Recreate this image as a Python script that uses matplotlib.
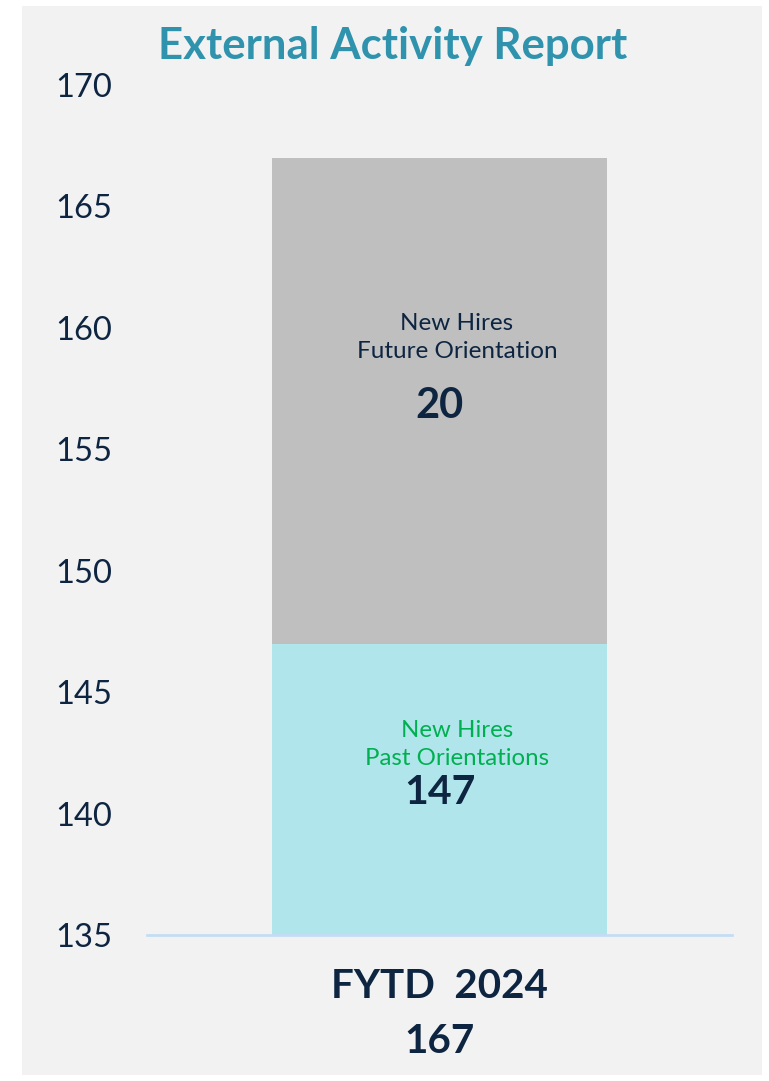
import matplotlib.pyplot as plt
from matplotlib.patches import Rectangle

plt.rcParams['font.family'] = ['Lato', 'DejaVu Sans']

categories = ["FYTD  2024"]
past = [147]
future = [20]
series_names = ["New Hires\nPast Orientations", "New Hires\nFuture Orientation"]
yticks = [135, 140, 145, 150, 155, 160, 165, 170]

navy = '#0e2541'
teal = '#2f93ae'

fig = plt.figure(figsize=(7.69, 10.81), dpi=100, facecolor='white')
fig.patches.append(Rectangle((22 / 769, 6 / 1081), 740 / 769, 1069 / 1081,
                             transform=fig.transFigure, facecolor='#f2f2f2',
                             edgecolor='none', zorder=-10))
ax = fig.add_axes([147 / 769, 1 - 935 / 1081, 585 / 769, 850 / 1081])
ax.set_facecolor('#f2f2f2')

x = list(range(len(categories)))
totals = [p + f for p, f in zip(past, future)]
ax.bar(x, past, width=0.571, color='#b0e6eb', zorder=2)
ax.bar(x, future, bottom=past, width=0.571, color='#bfbfbf', zorder=2)

ax.set_xlim(-0.5, 0.5)
ax.set_ylim(135, 170)
ax.set_yticks(yticks)
ax.tick_params(axis='y', length=0, labelsize=23.5, labelcolor=navy, pad=25)
ax.set_xticks(x)
ax.set_xticklabels([f"{c}\n{t}" for c, t in zip(categories, totals)],
                   fontsize=29, fontweight='bold', color=navy, linespacing=1.6)
ax.tick_params(axis='x', length=0, pad=24)
for s in ['top', 'right', 'left']:
    ax.spines[s].set_visible(False)
ax.spines['bottom'].set_color('#c5ddf4')
ax.spines['bottom'].set_linewidth(2)
ax.spines['bottom'].set_zorder(3)

for i in x:
    ax.text(i + 0.03, past[i] - 4.15, series_names[0], ha='center', va='center',
            fontsize=17.3, color='#00b050', linespacing=1.4, zorder=4)
    ax.text(i, past[i] - 6.15, str(past[i]), ha='center', va='center',
            fontsize=29.5, fontweight='bold', color=navy, zorder=4)
    ax.text(i + 0.03, totals[i] - 7.4, series_names[1], ha='center', va='center',
            fontsize=17.5, color=navy, linespacing=1.4, zorder=4)
    ax.text(i, totals[i] - 10.2, str(future[i]), ha='center', va='center',
            fontsize=30, fontweight='bold', color=navy, zorder=4)

fig.text(0.51, 1 - 46 / 1081, "External Activity Report", ha='center', va='center',
         fontsize=31.5, fontweight='bold', color=teal)

fig.savefig('out.png', dpi=100, facecolor='white')
